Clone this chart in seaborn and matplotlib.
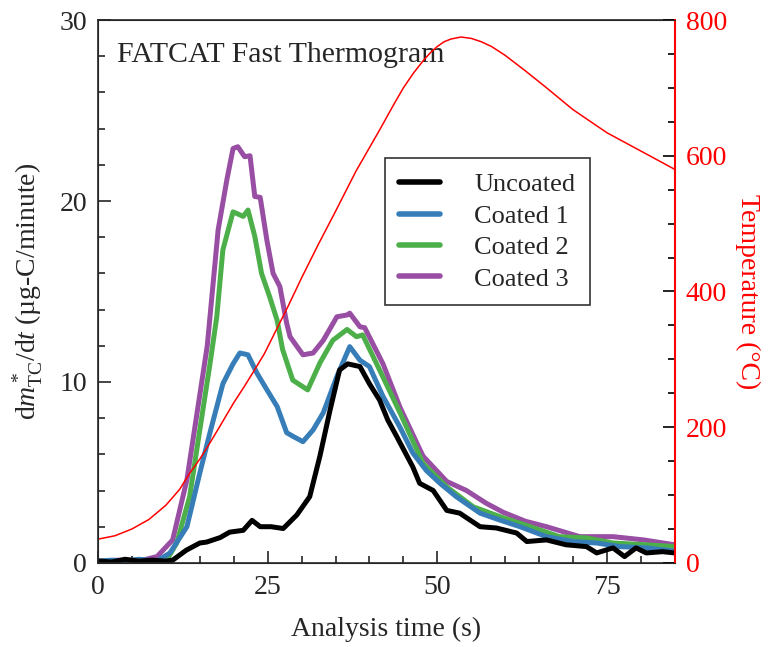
import pandas as pd
import matplotlib
matplotlib.use('Agg')
import matplotlib.pyplot as plt
import seaborn as sns
from matplotlib.lines import Line2D
from matplotlib.ticker import MultipleLocator

# Datos
t_uncoated = [0, 2, 4, 6, 8, 10, 11, 13, 15, 16, 18, 19.4, 21.4, 22.7, 23.9, 25.5, 27.3, 29.3,
              31.2, 32.7, 34.2, 35.6, 36.8, 38.6, 40, 41.5, 42.7, 44, 46.4, 47.4, 49.4, 51.4,
              53.3, 56.3, 58.7, 61.7, 63.2, 66.1, 69, 72, 73.5, 75.9, 77.6, 79.3, 80.8, 83.2, 85]
v_uncoated = [0.1, 0.05, 0.2, 0.1, 0.15, 0.1, 0.15, 0.7, 1.1, 1.15, 1.4, 1.7, 1.8, 2.35, 2.0, 2.0,
              1.9, 2.65, 3.66, 5.9, 8.45, 10.66, 11.0, 10.85, 9.9, 9.0, 7.9, 7.0, 5.3, 4.4, 4.0,
              2.9, 2.75, 2.0, 1.93, 1.65, 1.18, 1.27, 1.0, 0.9, 0.55, 0.83, 0.35, 0.83, 0.55, 0.62, 0.55]

t_coated1 = [0, 2, 4, 6, 8.7, 10.6, 13.1, 15, 16.5, 18.4, 19.9, 20.9, 22.1, 23.4, 24.9, 26.4,
             27.8, 28.7, 30.2, 31.7, 33.2, 35.2, 37.1, 38.6, 40, 42, 44.5, 46.4, 48.4, 50.4,
             52.8, 56.3, 59.2, 62.2, 66.1, 70, 73.5, 76.9, 80.8, 85]
v_coated1 = [0.1, 0.15, 0.1, 0.2, 0.1, 0.55, 2.0, 4.97, 7.2, 9.9, 11.0, 11.6, 11.5, 10.5, 9.56,
             8.64, 7.2, 7.0, 6.7, 7.35, 8.3, 10.3, 11.95, 11.2, 10.85, 9.2, 7.5, 6.07, 5.1, 4.4,
             3.66, 2.75, 2.37, 2.0, 1.45, 1.18, 1.1, 0.9, 0.83, 0.65]

t_coated2 = [0, 3, 6, 8, 10.2, 11.6, 13.5, 15, 16.5, 17.5, 18.4, 19.9, 21.4, 22.1, 23.1, 24.1,
             25.3, 26.4, 27.2, 28.7, 30.9, 32.7, 34.6, 36.7, 38.1, 39, 41.5, 44.5, 47.9, 51.4,
             55.3, 59.2, 63.7, 68, 72, 75.9, 80.8, 85]
v_coated2 = [0.1, 0.1, 0.15, 0.1, 0.2, 1.1, 3.66, 7.35, 11.0, 13.6, 17.3, 19.4, 19.15, 19.5,
             18.05, 16.0, 14.7, 13.4, 11.8, 10.1, 9.56, 11.05, 12.3, 12.9, 12.5, 12.6, 10.66,
             8.3, 5.5, 4.2, 3.1, 2.56, 2.0, 1.45, 1.38, 1.1, 1.0, 0.9]

t_coated3 = [0, 3, 6, 8.7, 11, 13.1, 14.6, 16.1, 17.7, 19, 19.9, 20.6, 21.6, 22.4, 23.1, 23.9,
             24.9, 25.8, 26.8, 27.8, 28.3, 30.2, 31.7, 33.2, 35.2, 36.7, 37.1, 38.6, 39.3, 42,
             44.5, 47.9, 51.4, 54.3, 57.2, 59.7, 63, 66.1, 71, 75.9, 80.4, 85]
v_coated3 = [0.1, 0.15, 0.1, 0.35, 1.27, 4.6, 8.3, 12.0, 18.4, 21.2, 22.9, 23.0, 22.45, 22.5,
             20.25, 20.2, 17.8, 16.0, 15.27, 13.25, 12.5, 11.5, 11.6, 12.3, 13.6, 13.7, 13.8,
             13.05, 13.0, 11.0, 8.6, 5.9, 4.5, 4.0, 3.3, 2.8, 2.3, 2.0, 1.45, 1.45, 1.27, 1.0]

t_temp = [0, 2.5, 5, 7.5, 10, 12, 13.5, 15, 16.5, 18, 20, 21.5, 22.8, 24.5, 26, 28, 30, 32.5,
          35, 38, 41.5, 43.5, 45, 46.5, 48, 49, 50, 51, 52, 53.5, 55, 56.5, 58, 60, 63, 66,
          70, 75, 80, 85]
temp = [35, 40, 50, 64, 85, 108, 132, 153, 177, 202, 236, 259, 280, 308, 338, 378, 420, 470,
        518, 577, 638, 674, 700, 722, 741, 752, 761, 768, 772, 775, 773, 768, 761, 748, 725,
        701, 668, 634, 607, 580]

labels = ['Uncoated', 'Coated 1', 'Coated 2', 'Coated 3']
colors = ['#000000', '#377eb8', '#4daf4a', '#984ea3']
series = [(t_uncoated, v_uncoated), (t_coated1, v_coated1),
          (t_coated2, v_coated2), (t_coated3, v_coated3)]

sns.set_style('ticks')
plt.rcParams['font.family'] = ['Liberation Serif', 'DejaVu Serif']
plt.rcParams['mathtext.fontset'] = 'custom'
plt.rcParams['mathtext.rm'] = 'Liberation Serif'
plt.rcParams['mathtext.it'] = 'Liberation Serif:italic'

fig, ax = plt.subplots(figsize=(7.72, 6.47), dpi=100)
fig.subplots_adjust(left=0.127, right=0.874, top=0.969, bottom=0.13)

# Dibujar en orden inverso para que Uncoated quede encima
for (t, v), lab, col in reversed(list(zip(series, labels, colors))):
    df = pd.DataFrame({'t': t, 'v': v})
    sns.lineplot(data=df, x='t', y='v', ax=ax, color=col, linewidth=3.6, sort=True)

ax.set_xlim(0, 85)
ax.set_ylim(0, 30)
ax.xaxis.set_major_locator(MultipleLocator(25))
ax.xaxis.set_minor_locator(MultipleLocator(5))
ax.yaxis.set_major_locator(MultipleLocator(10))
ax.yaxis.set_minor_locator(MultipleLocator(2))
ax.tick_params(which='both', direction='in', labelsize=20, width=1.2)
ax.tick_params(which='major', length=9)
ax.tick_params(which='minor', length=5)
ax.tick_params(axis='x', pad=9)
ax.tick_params(axis='y', pad=8)
ax.set_xlabel('Analysis time (s)', fontsize=20, labelpad=12)
ax.set_ylabel(r'd$m^*_{\mathrm{TC}}$/d$t$ (µg-C/minute)', fontsize=20, labelpad=10)
for s in ax.spines.values():
    s.set_linewidth(1.2)

ax.text(0.033, 0.935, 'FATCAT Fast Thermogram', transform=ax.transAxes,
        fontsize=21.5, va='center', ha='left')

# Eje de temperatura
ax2 = ax.twinx()
sns.lineplot(x=t_temp, y=temp, ax=ax2, color='red', linewidth=1.1)
ax2.set_ylim(0, 800)
ax2.yaxis.set_major_locator(MultipleLocator(200))
ax2.yaxis.set_minor_locator(MultipleLocator(50))
ax2.tick_params(which='both', direction='in', labelsize=20, width=1.2, colors='black',
                labelcolor='red', pad=8)
ax2.tick_params(which='major', length=9)
ax2.tick_params(which='minor', length=5)
ax2.set_ylabel('Temperature (°C)', fontsize=20, color='red', rotation=270, labelpad=24)
ax2.spines['right'].set_color('red')
ax2.spines['right'].set_linewidth(1.5)

handles = [Line2D([], [], color=c, linewidth=4) for c in colors]
leg = ax.legend(handles, labels, loc='upper left', bbox_to_anchor=(0.497, 0.745),
                borderaxespad=0, fontsize=19, frameon=True, fancybox=False,
                edgecolor='black', handlelength=1.55, handletextpad=1.3,
                borderpad=0.55, labelspacing=0.3)
leg.get_frame().set_linewidth(1.2)
leg.set_zorder(10)

plt.savefig('out.png', dpi=100)
